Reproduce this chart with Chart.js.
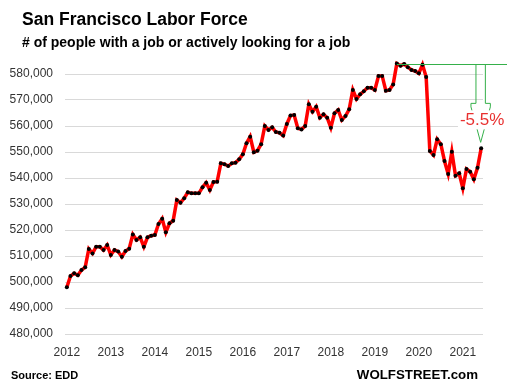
<!DOCTYPE html>
<html>
<head>
<meta charset="utf-8">
<script src="https://cdn.jsdelivr.net/npm/chart.js@4"></script>
<style>
  html, body { margin: 0; padding: 0; background: #fff; }
  #wrap { width: 507px; height: 391px; }
</style>
</head>
<body>
<div id="wrap"><canvas id="laborChart" width="507" height="391"></canvas></div>
<script>
// San Francisco labor force, monthly, Jan 2012 - Jun 2021
const yearLabels = ["2012", "2013", "2014", "2015", "2016", "2017", "2018", "2019", "2020", "2021"];
const monthNames = ["01", "02", "03", "04", "05", "06", "07", "08", "09", "10", "11", "12"];

const laborForce = [
  498000, 502300, 503350, 502600, 504600, 505650, 512700, 511000, 513600, 513600, 512300, 514200, // 2012
  510400, 512300, 511700, 509700, 511900, 512800, 518300, 516150, 517200, 513600, 517200, 517800, // 2013
  518100, 522300, 524350, 519100, 522600, 523600, 531500, 530500, 532200, 534500, 534100, 534100, // 2014
  534100, 536400, 538200, 535400, 538500, 538600, 545650, 545300, 544600, 545650, 545900, 547200, // 2015
  549100, 553350, 555900, 549900, 550500, 553000, 560000, 558500, 559500, 557700, 557400, 556300, // 2016
  560800, 564000, 564200, 559100, 558700, 560000, 568350, 565500, 567400, 563200, 564500, 563200, // 2017
  559350, 564900, 566150, 562300, 563850, 566400, 573850, 570400, 572200, 573350, 574750, 574750, // 2018
  573850, 579250, 579250, 573600, 573850, 576000, 584000, 583200, 583800, 582600, 581550, 581150, // 2019
  580250, 583600, 578800, 550400, 548850, 554900, 553000, 546550, 541550, 550100, 540900, 541800, // 2020
  536050, 543450, 542400, 539500, 543950, 551400                                                  // 2021
];

const yTicks = [480000, 490000, 500000, 510000, 520000, 530000, 540000, 550000, 560000, 570000, 580000];
const changeLabel = "-5.5%";

const months = yearLabels.flatMap(y => monthNames.map(m => y + "-" + m)).slice(0, laborForce.length);

const green = "#35b04a";

// titles, source line and the peak-to-now arrow
const decorations = {
  id: "decorations",
  afterDraw(chart) {
    const ctx = chart.ctx;
    const xs = chart.scales.x, ys = chart.scales.y;
    ctx.save();

    // peak line + block arrow
    const peak = Math.max(...laborForce);
    const peakIdx = laborForce.indexOf(peak);
    const lastIdx = laborForce.length - 1;
    const px = xs.getPixelForValue(peakIdx);
    const py = Math.round(ys.getPixelForValue(peak)) + 0.5;
    const ax = xs.getPixelForValue(lastIdx) - 0.5;
    const tipY = ys.getPixelForValue(laborForce[lastIdx]) - 6;
    const headTop = tipY - 39;
    ctx.strokeStyle = green;
    ctx.lineWidth = 1;
    ctx.beginPath();
    ctx.moveTo(px, py);
    ctx.lineTo(chart.width, py);
    ctx.stroke();
    ctx.beginPath();
    ctx.moveTo(ax - 4.7, py);
    ctx.lineTo(ax - 4.7, headTop);
    ctx.lineTo(ax - 9.7, headTop);
    ctx.lineTo(ax - 9.7, headTop + 3.5);
    ctx.lineTo(ax, tipY);
    ctx.lineTo(ax + 9.7, headTop + 3.5);
    ctx.lineTo(ax + 9.7, headTop);
    ctx.lineTo(ax + 4.7, headTop);
    ctx.lineTo(ax + 4.7, py);
    ctx.stroke();

    // change label on white
    ctx.font = "17px 'Liberation Sans', Arial, sans-serif";
    ctx.textAlign = "center";
    ctx.textBaseline = "alphabetic";
    const tw = ctx.measureText(changeLabel).width;
    const tx = ax + 1.5, tb = headTop + 22;
    ctx.fillStyle = "#fff";
    ctx.fillRect(tx - tw / 2 - 2, tb - 15, tw + 4, 19);
    ctx.fillStyle = "#e8302f";
    ctx.fillText(changeLabel, tx, tb);

    // titles
    ctx.textAlign = "left";
    ctx.fillStyle = "#000";
    ctx.font = "bold 17.5px 'Liberation Sans', Arial, sans-serif";
    ctx.fillText("San Francisco Labor Force", 22, 25);
    ctx.font = "bold 14px 'Liberation Sans', Arial, sans-serif";
    ctx.fillText("# of people with a job or actively looking for a job", 22, 46.5);

    // footer
    ctx.font = "bold 11px 'Liberation Sans', Arial, sans-serif";
    ctx.fillText("Source: EDD", 11, 378.5);
    ctx.textAlign = "right";
    ctx.font = "bold 13.3px 'Liberation Sans', Arial, sans-serif";
    ctx.fillText("WOLFSTREET.com", 478, 379);
    ctx.restore();
  }
};

new Chart(document.getElementById("laborChart"), {
  type: "line",
  data: {
    labels: months,
    datasets: [{
      data: laborForce,
      borderColor: "#ff0000",
      borderWidth: 3.5,
      tension: 0,
      pointRadius: 2,
      pointBorderWidth: 0,
      pointBackgroundColor: "#000",
      pointHoverRadius: 2,
    }],
  },
  options: {
    responsive: false,
    animation: false,
    devicePixelRatio: 1,
    layout: { padding: { top: 48, right: 24, bottom: 30, left: 0 } },
    plugins: { legend: { display: false }, tooltip: { enabled: false } },
    scales: {
      x: {
        type: "category",
        offset: true,
        grid: { display: false, drawTicks: false },
        border: { display: false },
        afterFit: (scale) => { scale.height = 27; },
        ticks: {
          autoSkip: false,
          maxRotation: 0,
          padding: 11,
          color: "#333",
          font: { family: "'Liberation Sans', Arial, sans-serif", size: 12 },
          callback: (value, index) => (index % 12 === 0 ? yearLabels[index / 12] : null),
        },
      },
      y: {
        min: yTicks[0],
        max: yTicks[yTicks.length - 1] + 10000,
        afterFit: (scale) => { scale.width = 65; },
        afterBuildTicks: (scale) => {
          scale.ticks = yTicks.concat([yTicks[yTicks.length - 1] + 10000]).map(v => ({ value: v }));
        },
        grid: {
          drawTicks: false,
          color: (c) => (c.tick && c.tick.value > yTicks[yTicks.length - 1] ? "rgba(0,0,0,0)" : "#d9d9d9"),
        },
        border: { display: false },
        ticks: {
          padding: 12,
          color: "#333",
          font: { family: "'Liberation Sans', Arial, sans-serif", size: 12 },
          callback: (v) => (v > yTicks[yTicks.length - 1] ? "" : v.toLocaleString("en-US")),
        },
      },
    },
  },
  plugins: [decorations],
});
</script>
</body>
</html>
